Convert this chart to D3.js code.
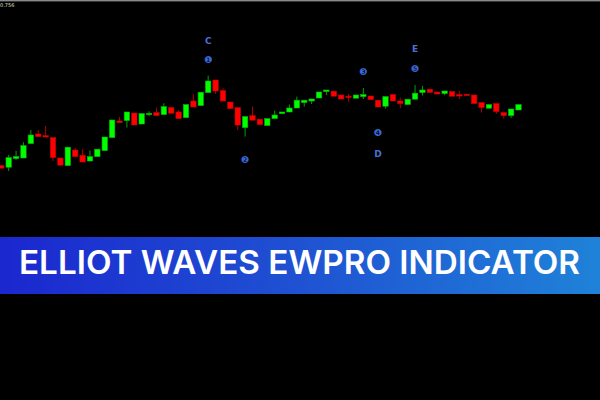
<!DOCTYPE html>
<html>
<head>
<meta charset="utf-8">
<script src="https://cdn.jsdelivr.net/npm/d3@7/dist/d3.min.js"></script>
<style>
  html, body { margin: 0; padding: 0; background: #000; }
  svg { display: block; }
</style>
</head>
<body>
<svg id="chart" width="600" height="400"></svg>
<script>
// ---- data (OHLC per bar) ----
const opens  = [0.74812,0.74804,0.74847,0.74850,0.74922,0.74970,0.74962,0.74952,0.74850,0.74812,
                0.74890,0.74864,0.74835,0.74857,0.74887,0.74952,0.75035,0.75037,0.75075,0.75020,
                0.75068,0.75077,0.75067,0.75102,0.75080,0.75052,0.75135,0.75112,0.75177,0.75240,
                0.75187,0.75130,0.75102,0.75002,0.75062,0.75044,0.75012,0.75047,0.75072,0.75080,
                0.75100,0.75127,0.75135,0.75150,0.75182,0.75184,0.75165,0.75159,0.75149,0.75157,
                0.75160,0.75139,0.75109,0.75167,0.75135,0.75117,0.75144,0.75177,0.75194,0.75180,
                0.75172,0.75182,0.75167,0.75169,0.75165,0.75127,0.75099,0.75122,0.75077,0.75062,
                0.75090];
const highs  = [0.74812,0.74865,0.74887,0.74929,0.74990,0.74990,0.75010,0.74952,0.74850,0.74905,
                0.74900,0.74895,0.74887,0.74894,0.74955,0.75040,0.75055,0.75080,0.75075,0.75072,
                0.75084,0.75102,0.75124,0.75102,0.75090,0.75117,0.75169,0.75179,0.75262,0.75240,
                0.75199,0.75130,0.75102,0.75057,0.75107,0.75044,0.75047,0.75087,0.75080,0.75117,
                0.75157,0.75139,0.75145,0.75180,0.75190,0.75184,0.75165,0.75170,0.75165,0.75200,
                0.75160,0.75139,0.75157,0.75167,0.75152,0.75144,0.75215,0.75210,0.75194,0.75180,
                0.75185,0.75182,0.75185,0.75169,0.75165,0.75127,0.75117,0.75122,0.75077,0.75095,
                0.75117];
const lows   = [0.74799,0.74785,0.74840,0.74850,0.74922,0.74957,0.74955,0.74835,0.74814,0.74812,
                0.74857,0.74830,0.74835,0.74857,0.74887,0.74952,0.75027,0.75002,0.75015,0.75020,
                0.75059,0.75062,0.75067,0.75074,0.75047,0.75052,0.75105,0.75112,0.75177,0.75170,
                0.75135,0.75097,0.74990,0.74957,0.75039,0.75017,0.75012,0.75047,0.75072,0.75080,
                0.75100,0.75107,0.75120,0.75150,0.75165,0.75159,0.75145,0.75132,0.75149,0.75145,
                0.75142,0.75105,0.75097,0.75135,0.75099,0.75117,0.75144,0.75162,0.75178,0.75170,
                0.75164,0.75159,0.75145,0.75162,0.75122,0.75077,0.75099,0.75070,0.75047,0.75050,
                0.75090];
const closes = [0.74799,0.74852,0.74857,0.74912,0.74965,0.74957,0.74955,0.74852,0.74814,0.74904,
                0.74857,0.74830,0.74857,0.74894,0.74955,0.75040,0.75027,0.75080,0.75015,0.75072,
                0.75073,0.75062,0.75107,0.75074,0.75047,0.75117,0.75105,0.75179,0.75235,0.75185,
                0.75135,0.75097,0.75015,0.75057,0.75039,0.75017,0.75047,0.75065,0.75080,0.75100,
                0.75139,0.75139,0.75145,0.75180,0.75190,0.75159,0.75145,0.75152,0.75165,0.75167,
                0.75142,0.75105,0.75157,0.75135,0.75122,0.75144,0.75174,0.75190,0.75178,0.75170,
                0.75185,0.75159,0.75160,0.75162,0.75122,0.75102,0.75117,0.75082,0.75062,0.75095,
                0.75117];

// wave labels
const labelTexts   = ["C", "\u2776", "\u2777", "\u2778", "\u2779", "D", "E", "\u277A"];
const labelIndex   = [28, 28, 33, 49, 51, 51, 56, 56];
const labelPrices  = [0.75435, 0.75345, 0.74845, 0.75285, 0.74980, 0.74870, 0.75395, 0.75300];

const priceTicks = ["0.756"];
const titleText = "ELLIOT WAVES EWPRO INDICATOR";

// ---- drawing ----
const svg = d3.select("#chart");
const W = 600, H = 400;

svg.append("rect").attr("width", W).attr("height", H).attr("fill", "#000");

const x = d3.scaleLinear().domain([0, 70]).range([1.3, 518.5]);
const y = d3.scaleLinear().domain([0.7450, 0.7560]).range([228, 8]);

// top border
svg.append("rect").attr("x", 0).attr("y", 0).attr("width", W).attr("height", 1.4).attr("fill", "#8a8a8a");

// price label
svg.append("text").attr("x", 0).attr("y", 6.5)
  .attr("font-family", "DejaVu Sans, sans-serif").attr("font-size", 5)
  .attr("fill", "#e0e0d0").text(priceTicks[0]);

const bars = d3.range(opens.length).map(i => ({
  i, o: opens[i], h: highs[i], l: lows[i], c: closes[i], up: closes[i] >= opens[i]
}));

const bw = 5.4;
const g = svg.append("g");

g.selectAll("line.wick").data(bars).join("line")
  .attr("class", "wick")
  .attr("x1", d => x(d.i)).attr("x2", d => x(d.i))
  .attr("y1", d => y(d.h)).attr("y2", d => y(d.l))
  .attr("stroke", d => d.up ? "#00a000" : "#b00000")
  .attr("stroke-width", 1);

g.selectAll("rect.body").data(bars).join("rect")
  .attr("class", "body")
  .attr("x", d => x(d.i) - bw / 2)
  .attr("width", bw)
  .attr("y", d => y(Math.max(d.o, d.c)))
  .attr("height", d => Math.max(1.2, y(Math.min(d.o, d.c)) - y(Math.max(d.o, d.c))))
  .attr("fill", d => d.up ? "#00ff00" : "#ff0000")
  .attr("stroke", d => d.up ? "#00b400" : "#c00000")
  .attr("stroke-width", 0.6);

// wave labels
svg.selectAll("text.wave").data(labelTexts.map((t, k) => ({ t, i: labelIndex[k], p: labelPrices[k] })))
  .join("text")
  .attr("class", "wave")
  .attr("x", d => x(d.i))
  .attr("y", d => y(d.p))
  .attr("text-anchor", "middle")
  .attr("dominant-baseline", "central")
  .attr("font-family", "DejaVu Sans, sans-serif")
  .attr("font-weight", d => d.t.charCodeAt(0) < 128 ? "bold" : "normal")
  .attr("font-size", d => d.t.charCodeAt(0) < 128 ? 9 : 9.5)
  .attr("fill", d => d.t.charCodeAt(0) < 128 ? "#4c70d6" : "#3a66d8")
  .text(d => d.t);

// banner
const defs = svg.append("defs");
const grad = defs.append("linearGradient").attr("id", "bannerGrad")
  .attr("x1", "0%").attr("x2", "100%").attr("y1", "0%").attr("y2", "0%");
grad.append("stop").attr("offset", "0%").attr("stop-color", "#1b27cf");
grad.append("stop").attr("offset", "50%").attr("stop-color", "#1f52d2");
grad.append("stop").attr("offset", "100%").attr("stop-color", "#1f82d8");

svg.append("rect").attr("x", 0).attr("y", 237).attr("width", W).attr("height", 57)
  .attr("fill", "url(#bannerGrad)");

svg.append("text")
  .attr("x", 19).attr("y", 274)
  .attr("font-family", "Inter, 'Open Sans', sans-serif")
  .attr("font-weight", 600)
  .attr("font-size", 32)
  .attr("fill", "#ffffff")
  .attr("textLength", 561)
  .attr("lengthAdjust", "spacingAndGlyphs")
  .text(titleText);
</script>
</body>
</html>
